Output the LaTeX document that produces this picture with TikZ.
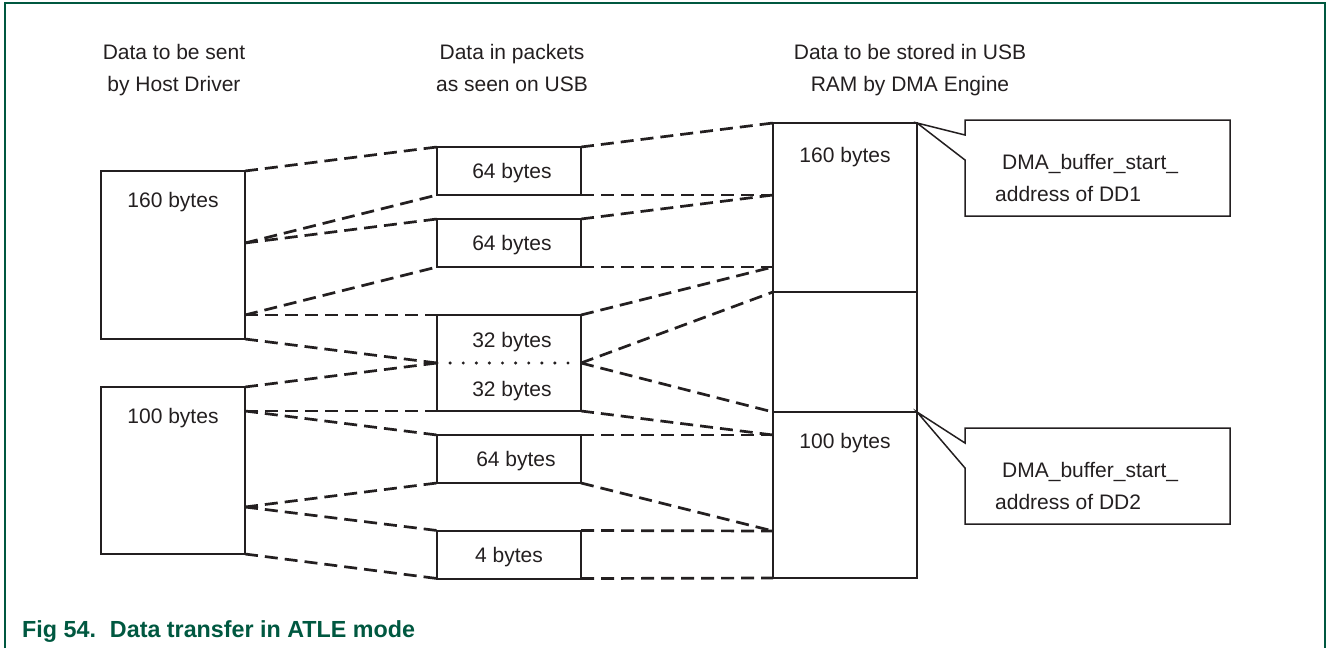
\documentclass[tikz,border=0pt]{standalone}
\usepackage{fontspec}
\setmainfont{Liberation Sans}
\usetikzlibrary{positioning}
\definecolor{ink}{RGB}{35,31,32}
\definecolor{nxpgreen}{RGB}{0,88,64}
\newcommand{\diagfont}{\fontsize{21}{32}\selectfont}

\begin{document}
\begin{tikzpicture}[x=1pt, y=-1pt,
        blk/.style={draw=ink, line width=2pt, inner sep=0pt, outer sep=0pt, minimum width=144pt},
        pkt/.style={blk, minimum height=48pt, font=\diagfont, text=ink, text height=15pt, text depth=0pt},
        lbl/.style={font=\diagfont, text=ink, inner sep=0pt},
        link/.style={draw=ink, line width=2.7pt, dash pattern=on 13pt off 7pt},
        sepdots/.style={draw=ink, line width=3.4pt, line cap=round, dash pattern=on 0pt off 13.1pt},
        callbox/.style={inner sep=0pt, outer sep=0pt, minimum width=265pt, minimum height=96pt},
        callline/.style={draw=ink, line width=1.5pt}
    ]
        \useasboundingbox (0,0) rectangle (1327,648);
        % frame, open at the bottom
        \draw[nxpgreen, line width=1.5pt] (5,648) -- (5,3) -- (1325,3) -- (1325,648);

        % column headings
        \node[lbl, align=center] (hdrHost) at (174,70) {Data to be sent\\by Host Driver};
        \node[lbl, align=center] (hdrUsb) at (512,68) {Data in packets\\as seen on USB};
        \node[lbl, align=center] (hdrRam) at (910,70) {Data to be stored in USB\\RAM by DMA Engine};

        % host driver buffers
        \node[blk, minimum height=168pt] (hostA) at (173,255) {};
        \node[blk, minimum height=167pt] (hostB) at (173,470.5) {};
        \node[lbl, below=21pt of hostA.north] (hostAtxt) {160 bytes};
        \node[lbl, below=21pt of hostB.north] (hostBtxt) {100 bytes};

        % USB packets
        \node[pkt] (pk1) at (509,171) {\hspace{6pt}64 bytes};
        \node[pkt] (pk2) at (509,243) {\hspace{6pt}64 bytes};
        \node[blk, minimum height=96pt] (pk3) at (509,363) {};
        \node[lbl, above=11pt of pk3.center] (pk3top) {\hspace{6pt}32 bytes};
        \node[lbl, below=18pt of pk3.center] (pk3bot) {\hspace{6pt}32 bytes};
        \draw[sepdots] (pk3.west) -- (pk3.east);
        \node[pkt] (pk4) at (509,459) {\hspace{14pt}64 bytes};
        \node[pkt] (pk5) at (509,554.5) {4 bytes\hspace{10pt}};

        % USB RAM
        \node[blk, minimum height=169pt] (ramA) at (845,207.5) {};
        \node[blk, minimum height=120pt, below=0pt of ramA] (ramGap) {};
        \node[blk, minimum height=166pt, below=0pt of ramGap] (ramB) {};
        \node[lbl, below=24pt of ramA.north] (ramAtxt) {160 bytes};
        \node[lbl, below=21pt of ramB.north] (ramBtxt) {100 bytes};

        \coordinate (hA1) at ([yshift=-72pt]hostA.north east);
        \coordinate (hA2) at ([yshift=-144pt]hostA.north east);
        \coordinate (hB1) at ([yshift=-24pt]hostB.north east);
        \coordinate (hB2) at ([yshift=-120pt]hostB.north east);
        \coordinate (rA1) at ([yshift=-72pt]ramA.north west);
        \coordinate (rA2) at ([yshift=-144pt]ramA.north west);
        \coordinate (rB1) at ([yshift=-23pt]ramB.north west);
        \coordinate (rB2) at ([yshift=-119pt]ramB.north west);

        % host -> packets
        \draw[link] (hostA.north east) -- (pk1.north west); \draw[link] (hA1) -- (pk1.south west);
        \draw[link] (hA1) -- (pk2.north west); \draw[link] (hA2) -- (pk2.south west);
        \draw[link] (hA2) -- (pk3.north west); \draw[link] (hostA.south east) -- (pk3.west);
        \draw[link] (hostB.north east) -- (pk3.west); \draw[link] (hB1) -- (pk3.south west);
        \draw[link] (hB1) -- (pk4.north west); \draw[link] (hB2) -- (pk4.south west);
        \draw[link] (hB2) -- (pk5.north west); \draw[link] (hostB.south east) -- (pk5.south west);

        % packets -> RAM
        \draw[link] (pk1.north east) -- (ramA.north west); \draw[link] (pk1.south east) -- (rA1);
        \draw[link] (pk2.north east) -- (rA1); \draw[link] (pk2.south east) -- (rA2);
        \draw[link] (pk3.north east) -- (rA2); \draw[link] (pk3.east) -- (ramA.south west);
        \draw[link] (pk3.east) -- (ramB.north west); \draw[link] (pk3.south east) -- (rB1);
        \draw[link] (pk4.north east) -- (rB1); \draw[link] (pk4.south east) -- (rB2);
        \draw[link] (pk5.north east) -- (rB2); \draw[link] (pk5.south east) -- (ramB.south west);

        % descriptor callouts
        \node[callbox] (dd1) at (1097.5,168) {};
        \node[callbox] (dd2) at (1097.5,476) {};
        \draw[callline] (ramA.north east) -- ([yshift=-15pt]dd1.north west) |- (dd1.north east)
            |- (dd1.south west) -- ([yshift=-40pt]dd1.north west) -- cycle;
        \draw[callline] (ramB.north east) -- ([yshift=-15pt]dd2.north west) |- (dd2.north east)
            |- (dd2.south west) -- ([yshift=-40pt]dd2.north west) -- cycle;
        \node[lbl, align=left, anchor=west] (dd1txt) at ([xshift=30pt, yshift=-10pt]dd1.west)
            {\hspace{7pt}DMA\_buffer\_start\_\\address of DD1};
        \node[lbl, align=left, anchor=west] (dd2txt) at ([xshift=30pt, yshift=-10pt]dd2.west)
            {\hspace{7pt}DMA\_buffer\_start\_\\address of DD2};

        % caption
        \node[font=\fontsize{23.3}{28}\selectfont\bfseries, text=nxpgreen, inner sep=0pt, anchor=base west]
            (caption) at (22,637) {Fig 54.\hspace{14pt}Data transfer in ATLE mode};
\end{tikzpicture}
\end{document}
